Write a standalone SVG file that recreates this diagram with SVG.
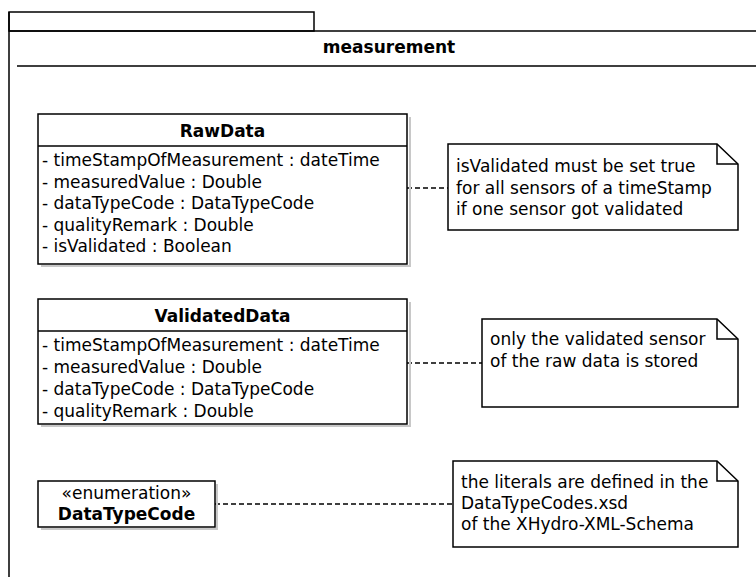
<svg xmlns="http://www.w3.org/2000/svg" width="756" height="577" viewBox="0 0 756 577">
<style>
text{font-family:"DejaVu Sans",Verdana,sans-serif;font-size:17px;fill:#000}
.b{font-weight:bold}
.m{text-anchor:middle}
.box{fill:#fff;stroke:#000;stroke-width:1.5}
.sh{fill:none;stroke:#c8c8c8;stroke-width:2}
.ln{stroke:#000;stroke-width:1.5;fill:none}
.dash{stroke:#000;stroke-width:1.5;stroke-dasharray:5,3;fill:none}
</style>
<rect width="756" height="577" fill="#fff"/>
<g id="frame">
<rect x="9" y="12" width="305" height="19" class="box"/>
<path d="M9 12V577M9 31H756M17 66H756" class="ln"/>
<text x="389" y="53" class="b m">measurement</text>
</g>
<g id="connectors">
<path d="M407 188H448" class="dash"/>
<path d="M407 363H482" class="dash"/>
<path d="M215 504H453" class="dash"/>
</g>
<g id="RawData">
<path d="M41 266H410V117" class="sh"/>
<rect x="38" y="114" width="369" height="150" class="box"/>
<path d="M38 146H407" class="ln"/>
<text x="222.5" y="137" class="b m">RawData</text>
<text x="42" y="166">- timeStampOfMeasurement : dateTime</text>
<text x="42" y="187.5">- measuredValue : Double</text>
<text x="42" y="209">- dataTypeCode : DataTypeCode</text>
<text x="42" y="230.5">- qualityRemark : Double</text>
<text x="42" y="252">- isValidated : Boolean</text>
</g>
<g id="ValidatedData">
<path d="M41 426H410V302" class="sh"/>
<rect x="38" y="299" width="369" height="125" class="box"/>
<path d="M38 331H407" class="ln"/>
<text x="222.5" y="322" class="b m">ValidatedData</text>
<text x="42" y="351">- timeStampOfMeasurement : dateTime</text>
<text x="42" y="373">- measuredValue : Double</text>
<text x="42" y="395">- dataTypeCode : DataTypeCode</text>
<text x="42" y="417">- qualityRemark : Double</text>
</g>
<g id="DataTypeCode">
<path d="M41 529H217V484" class="sh"/>
<rect x="38" y="481" width="177" height="46" class="box"/>
<text x="126.5" y="499" class="m">«enumeration»</text>
<text x="126.5" y="520" class="b m">DataTypeCode</text>
</g>
<g id="note1">
<path d="M448 144H717L738 164V230H448Z" class="box"/>
<path d="M717 144V164H738" class="ln"/>
<text x="456" y="172">isValidated must be set true</text>
<text x="456" y="193.5">for all sensors of a timeStamp</text>
<text x="456" y="215">if one sensor got validated</text>
</g>
<g id="note2">
<path d="M482 319H717L738 339V407H482Z" class="box"/>
<path d="M717 319V339H738" class="ln"/>
<text x="490" y="345">only the validated sensor</text>
<text x="490" y="367">of the raw data is stored</text>
</g>
<g id="note3">
<path d="M453 461H717L738 481V547H453Z" class="box"/>
<path d="M717 461V481H738" class="ln"/>
<text x="461" y="488">the literals are defined in the</text>
<text x="461" y="509">DataTypeCodes.xsd</text>
<text x="461" y="530">of the XHydro-XML-Schema</text>
</g>
</svg>
